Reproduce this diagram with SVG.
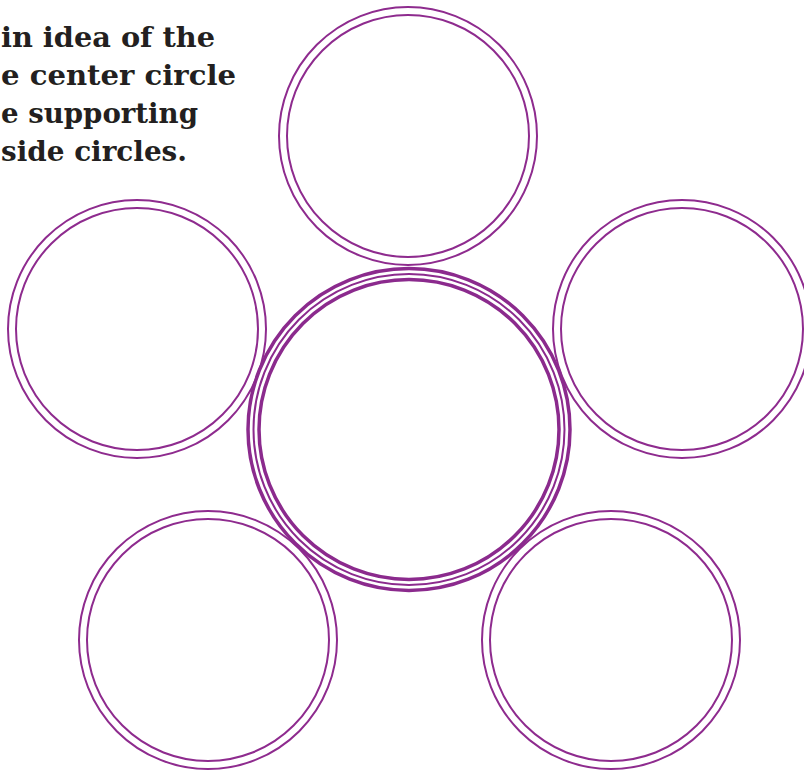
<svg xmlns="http://www.w3.org/2000/svg" width="804" height="770" viewBox="0 0 804 770">
<style>
  .t { font-family: "DejaVu Serif", "Liberation Serif", serif; font-weight: bold; font-size: 28px; fill: #231F20; }
  .ring { fill: none; stroke: #8E2B8E; stroke-width: 2; }
  .thick { fill: none; stroke: #8B2A8D; stroke-width: 3.5; }
  .mid { fill: none; stroke: #8B2A8D; stroke-width: 2; }
</style>
<rect width="804" height="770" fill="#ffffff"/>
<g id="instructions">
  <text class="t" x="1" y="47" textLength="214" lengthAdjust="spacingAndGlyphs">in idea of the</text>
  <text class="t" x="1" y="85" textLength="235" lengthAdjust="spacingAndGlyphs">e center circle</text>
  <text class="t" x="1" y="123" textLength="197" lengthAdjust="spacingAndGlyphs">e supporting</text>
  <text class="t" x="1" y="161" textLength="186" lengthAdjust="spacingAndGlyphs">side circles.</text>
</g>
<g id="top-circle">
  <circle class="ring" cx="408" cy="136" r="129"/>
  <circle class="ring" cx="408" cy="136" r="121"/>
</g>
<g id="left-circle">
  <circle class="ring" cx="137" cy="329" r="129"/>
  <circle class="ring" cx="137" cy="329" r="121"/>
</g>
<g id="right-circle">
  <circle class="ring" cx="682" cy="329" r="129"/>
  <circle class="ring" cx="682" cy="329" r="121"/>
</g>
<g id="bottom-left-circle">
  <circle class="ring" cx="208" cy="640" r="129"/>
  <circle class="ring" cx="208" cy="640" r="121"/>
</g>
<g id="bottom-right-circle">
  <circle class="ring" cx="611" cy="640" r="129"/>
  <circle class="ring" cx="611" cy="640" r="121"/>
</g>
<g id="center-circle">
  <circle class="thick" cx="409" cy="429.5" r="161"/>
  <circle class="mid" cx="409" cy="429.5" r="155.5"/>
  <circle class="thick" cx="409" cy="429.5" r="150"/>
</g>
<g id="connectors"></g>
</svg>
